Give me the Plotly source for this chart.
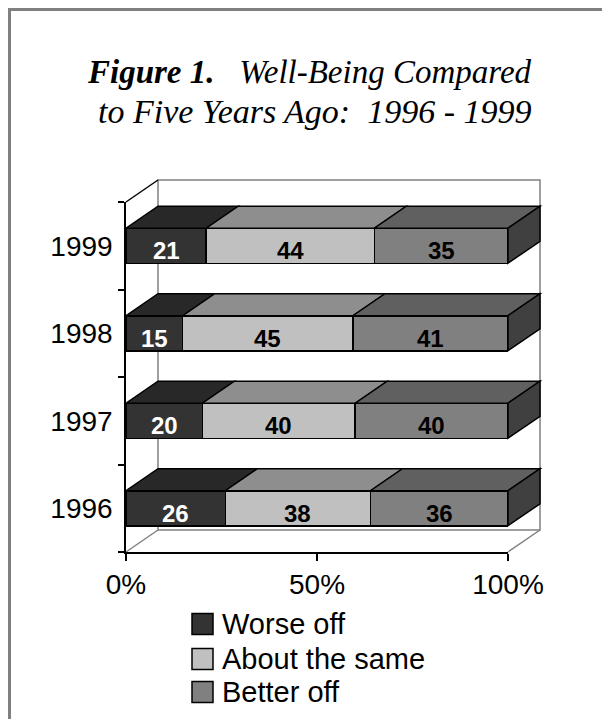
import plotly.graph_objects as go

# ---------------- data ----------------
years = ["1996", "1997", "1998", "1999"]
worse_off = [26, 20, 15, 21]
about_same = [38, 40, 45, 44]
better_off = [36, 40, 41, 35]
series_names = ["Worse off", "About the same", "Better off"]
x_tick_vals = [0, 50, 100]
x_tick_text = ["0%", "50%", "100%"]

# ---------------- style ----------------
front_colors = ["#333333", "#c0c0c0", "#808080"]
top_colors = ["#282828", "#8e8e8e", "#606060"]
side_color = "#404040"
label_colors = ["white", "black", "black"]
SANS = "Liberation Sans, Arial, sans-serif"
SERIF = "Liberation Serif, Times New Roman, serif"

W, H = 602, 719
ML, MR, MT, MB = 126, 94, 202, 167
PW = W - ML - MR
PH = H - MT - MB
DEPTH_X = 32 / PW      # 3-D depth, paper units
DEPTH_Y = 22 / PH
BAR_W = 0.4
N = len(years)


def px_x(px):
    return (px - ML) / PW


def px_y(py):
    return (H - MB - py) / PH


def dx(v):            # x data (percent) -> paper
    return v / 100.0


def dy(v):            # category index -> paper
    return (v + 0.5) / N


series = [worse_off, about_same, better_off]

fig = go.Figure()
for name, vals, col in zip(series_names, series, front_colors):
    fig.add_trace(go.Bar(
        y=years, x=vals, name=name, orientation="h", width=BAR_W,
        marker=dict(color=col, line=dict(color="black", width=1.5)),
        showlegend=False, hoverinfo="skip",
    ))

shapes = []
annotations = []

# back wall / floor / side wall edges
shapes.append(dict(type="rect", xref="paper", yref="paper",
                   x0=DEPTH_X, y0=DEPTH_Y, x1=1 + DEPTH_X, y1=1 + DEPTH_Y,
                   line=dict(color="#808080", width=1.5), layer="below"))
shapes.append(dict(type="line", xref="paper", yref="paper",
                   x0=0, y0=0, x1=DEPTH_X, y1=DEPTH_Y,
                   line=dict(color="#808080", width=1.5), layer="below"))
shapes.append(dict(type="line", xref="paper", yref="paper",
                   x0=1, y0=0, x1=1 + DEPTH_X, y1=DEPTH_Y,
                   line=dict(color="#808080", width=1.5), layer="below"))
shapes.append(dict(type="line", xref="paper", yref="paper",
                   x0=0, y0=1, x1=DEPTH_X, y1=1 + DEPTH_Y,
                   line=dict(color="black", width=1.5), layer="above"))

# 3-D faces and value labels derived from the data
for i in range(N):
    vals = [s[i] for s in series]
    tot = sum(vals)
    cum = 0
    yt = dy(i + BAR_W / 2)
    yb = dy(i - BAR_W / 2)
    for k, v in enumerate(vals):
        x0 = cum / tot * 100
        x1 = (cum + v) / tot * 100
        X0, X1 = dx(x0), dx(x1)
        shapes.append(dict(
            type="path", xref="paper", yref="paper", layer="above",
            path=f"M {X0},{yt} L {X1},{yt} L {X1 + DEPTH_X},{yt + DEPTH_Y} "
                 f"L {X0 + DEPTH_X},{yt + DEPTH_Y} Z",
            fillcolor=top_colors[k], line=dict(color="black", width=1.5)))
        annotations.append(dict(
            x=(x0 + x1) / 2, y=i, xref="x", yref="y", text=f"<b>{v}</b>",
            xanchor="center", yanchor="middle",
            showarrow=False, yshift=-5,
            font=dict(family=SANS, size=24, color=label_colors[k])))
        cum += v
    shapes.append(dict(
        type="path", xref="paper", yref="paper", layer="above",
        path=f"M 1,{yb} L {1 + DEPTH_X},{yb + DEPTH_Y} L {1 + DEPTH_X},{yt + DEPTH_Y} L 1,{yt} Z",
        fillcolor=side_color, line=dict(color="black", width=1.5)))

# outer frame
shapes.append(dict(type="rect", xref="paper", yref="paper",
                   x0=px_x(9.5), y0=px_y(760), x1=px_x(660), y1=px_y(9.5),
                   line=dict(color="#808080", width=3), layer="below"))

# title
annotations.append(dict(
    xref="paper", yref="paper", x=px_x(309), y=px_y(72), showarrow=False,
    xanchor="center", yanchor="middle",
    text="<b><i>Figure 1.</i></b>\u00a0\u00a0\u00a0<i>Well-Being Compared</i>",
    font=dict(family=SERIF, size=33, color="black")))
annotations.append(dict(
    xref="paper", yref="paper", x=px_x(314), y=px_y(111), showarrow=False,
    xanchor="center", yanchor="middle",
    text="<i>to Five Years Ago:\u00a0\u00a01996 - 1999</i>",
    font=dict(family=SERIF, size=34, color="black")))

# legend (manual, larger swatches like the original)
leg_y = [624, 659, 692]
for name, col, yc in zip(series_names, front_colors, leg_y):
    shapes.append(dict(type="rect", xref="paper", yref="paper",
                       x0=px_x(192), x1=px_x(213), y0=px_y(yc + 10.5), y1=px_y(yc - 10.5),
                       fillcolor=col, line=dict(color="black", width=1.5)))
    annotations.append(dict(
        xref="paper", yref="paper", x=px_x(220), y=px_y(yc), xanchor="left",
        yanchor="middle", showarrow=False, text=name,
        font=dict(family=SANS, size=29, color="black")))

fig.update_layout(
    width=W, height=H, margin=dict(l=ML, r=MR, t=MT, b=MB, pad=0),
    barmode="stack", barnorm="percent",
    paper_bgcolor="white", plot_bgcolor="rgba(0,0,0,0)",
    showlegend=False,
    shapes=shapes, annotations=annotations,
    xaxis=dict(range=[0, 100], tickvals=x_tick_vals, ticktext=x_tick_text,
               ticks="outside", ticklen=7, tickwidth=1.5, tickcolor="black",
               showline=True, linecolor="black", linewidth=1.5,
               showgrid=False, zeroline=False, fixedrange=True,
               tickfont=dict(family=SANS, size=28, color="black")),
    yaxis=dict(type="category", categoryorder="array", categoryarray=years,
               range=[-0.5, N - 0.5], tickson="boundaries",
               ticks="outside", ticklen=6, tickwidth=1.5, tickcolor="black",
               ticklabelstandoff=6,
               showline=True, linecolor="black", linewidth=1.5,
               showgrid=False, zeroline=False, fixedrange=True,
               tickfont=dict(family=SANS, size=28, color="black")),
)

fig.write_html("out.html", config={"displayModeBar": False},
               post_script="document.body.style.margin='0';document.body.style.padding='0';")
